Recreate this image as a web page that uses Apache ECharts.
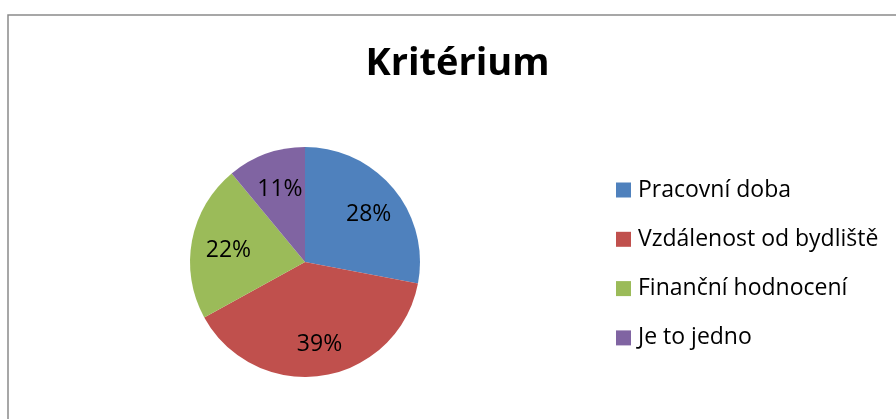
<!DOCTYPE html>
<html>
<head>
<meta charset="utf-8">
<script src="https://cdn.jsdelivr.net/npm/echarts@6/dist/echarts.min.js"></script>
<style>html,body{margin:0;padding:0;background:#fff}#c{width:896px;height:419px}</style>
</head>
<body>
<div id="c"></div>
<script>
const categories = ['Pracovní doba', 'Vzdálenost od bydliště', 'Finanční hodnocení', 'Je to jedno'];
const values = [28, 39, 22, 11];
const colors = ['#4F81BD', '#C0504D', '#9BBB59', '#8064A2'];
const titleText = 'Kritérium';

const data = categories.map((n, i) => ({ name: n, value: values[i], itemStyle: { color: colors[i] } }));
const chart = echarts.init(document.getElementById('c'));
chart.setOption({
  animation: false,
  backgroundColor: '#fff',
  title: {
    text: titleText, left: 457.5, top: 45, textAlign: 'center', padding: 0,
    textStyle: { fontFamily: 'Open Sans', fontWeight: 'bold', fontSize: 38, color: '#000' }
  },
  graphic: [{
    type: 'rect', shape: { x: 8, y: 15, width: 1000, height: 1000 },
    style: { fill: 'none', stroke: '#8a8a8a', lineWidth: 1.5 }, silent: true
  }],
  legend: {
    orient: 'vertical', left: 616, top: 178.5, padding: 0,
    itemWidth: 15, itemHeight: 15, itemGap: 26.3,
    icon: 'rect',
    data: categories,
    textStyle: { fontFamily: 'Open Sans', fontSize: 23, color: '#000', lineHeight: 22, padding: [0, 0, 0, 2] }
  },
  series: [{
    type: 'pie', center: [305, 262], radius: [0, 115], startAngle: 90, clockwise: true,
    data: data, label: { show: false }, labelLine: { show: false },
    itemStyle: { borderColor: '#fff', borderWidth: 0 }
  }, {
    type: 'pie', center: [307, 265], radius: [40, 114], startAngle: 90, clockwise: true,
    silent: true, legendHoverLink: false,
    data: categories.map((n, i) => ({ name: n, value: values[i] })),
    itemStyle: { color: 'rgba(0,0,0,0)' },
    label: { show: true, position: 'inside', formatter: '{c}%', fontFamily: 'Open Sans', fontSize: 23, color: '#000' },
    labelLine: { show: false }
  }]
});
</script>
</body>
</html>
